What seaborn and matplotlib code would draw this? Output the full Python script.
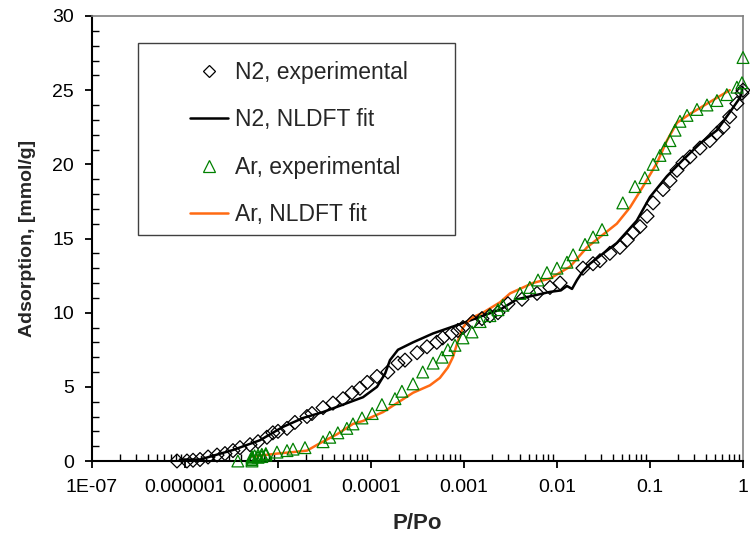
import numpy as np
import pandas as pd
import matplotlib
matplotlib.use("Agg")
import matplotlib.pyplot as plt
import seaborn as sns
from matplotlib.lines import Line2D
from matplotlib.patches import Rectangle
from matplotlib.ticker import LogLocator, NullFormatter

# ---------------- data ----------------
n2_exp_p = [8.2e-7, 1.05e-6, 1.22e-6, 1.45e-6, 1.77e-6, 2.21e-6, 2.69e-6, 3.28e-6, 3.9e-6,
            5.0e-6, 6.1e-6, 7.6e-6, 8.8e-6, 1.0e-5, 1.25e-5, 1.52e-5, 2.05e-5, 2.32e-5,
            3.05e-5, 3.9e-5, 5.0e-5, 6.25e-5, 7.6e-5, 9.1e-5, 1.16e-4, 1.52e-4, 1.95e-4,
            2.32e-4, 3.13e-4, 4.0e-4, 5.1e-4, 5.9e-4, 7.4e-4, 8.6e-4, 9.75e-4, 1.25e-3,
            1.56e-3, 1.9e-3, 2.32e-3, 2.97e-3, 4.2e-3, 6.1e-3, 8.4e-3, 1.08e-2, 1.9e-2,
            2.44e-2, 2.9e-2, 3.7e-2, 4.75e-2, 5.7e-2, 6.6e-2, 7.8e-2, 9.3e-2, 0.108,
            0.138, 0.164, 0.195, 0.226, 0.269, 0.345, 0.44, 0.525, 0.61, 0.72, 0.86,
            0.975, 1.0]
n2_exp_q = [0.0, 0.0, 0.05, 0.1, 0.27, 0.4, 0.5, 0.7, 0.9,
            1.1, 1.3, 1.6, 1.9, 2.0, 2.2, 2.6, 3.0, 3.2,
            3.6, 3.9, 4.2, 4.6, 4.9, 5.3, 5.7, 6.0, 6.6,
            6.8, 7.3, 7.7, 8.0, 8.3, 8.6, 8.8, 9.0, 9.4,
            9.6, 9.8, 10.0, 10.6, 10.9, 11.3, 11.7, 12.0, 13.0,
            13.3, 13.5, 14.0, 14.4, 14.9, 15.4, 15.8, 16.5, 17.4,
            18.3, 18.9, 19.6, 20.1, 20.5, 21.1, 21.6, 22.1, 22.5, 23.2, 24.1,
            24.8, 25.0]

n2_fit_p = [8.8e-7, 1.45e-6, 3.28e-6, 6.4e-6, 1.13e-5, 1.86e-5, 3.05e-5, 5.0e-5, 8.2e-5,
            1.16e-4, 1.42e-4, 1.6e-4, 1.95e-4, 2.83e-4, 4.65e-4, 7.1e-4, 1.08e-3, 1.6e-3,
            2.44e-3, 3.7e-3, 8.4e-3, 1.1e-2, 1.28e-2, 1.45e-2, 1.64e-2, 1.9e-2, 2.26e-2,
            4.4e-2, 7.2e-2, 0.1, 0.152, 0.226, 0.345, 0.525, 0.72, 0.93, 1.0]
n2_fit_q = [0.1, 0.1, 0.74, 1.4, 2.3, 2.9, 3.3, 3.8, 4.3,
            5.0, 5.9, 6.8, 7.5, 8.0, 8.6, 9.0, 9.4, 9.8,
            10.2, 10.9, 11.4, 11.5, 11.8, 11.6, 12.2, 12.8, 13.3,
            14.7, 16.2, 17.8, 19.2, 20.3, 21.4, 22.3, 23.5, 24.5, 25.2]

ar_exp_p = [3.7e-6, 5.25e-6, 5.25e-6, 5.25e-6, 5.25e-6, 5.6e-6, 6.1e-6, 6.1e-6, 6.7e-6,
            6.7e-6, 7.4e-6, 7.4e-6, 9.75e-6, 1.25e-5, 1.45e-5, 1.95e-5, 3.05e-5, 3.6e-5,
            4.4e-5, 5.5e-5, 6.4e-5, 8.0e-5, 1.03e-4, 1.31e-4, 1.81e-4, 2.15e-4, 2.83e-4,
            3.6e-4, 4.65e-4, 5.8e-4, 6.7e-4, 8.0e-4, 9.75e-4, 1.22e-3, 1.49e-3, 1.9e-3,
            2.32e-3, 2.62e-3, 4.0e-3, 5.1e-3, 6.25e-3, 7.8e-3, 1.0e-2, 1.28e-2, 1.49e-2,
            2.0e-2, 2.44e-2, 3.05e-2, 5.1e-2, 6.9e-2, 8.8e-2, 0.108, 0.128, 0.145, 0.164,
            0.186, 0.21, 0.25, 0.32, 0.41, 0.525, 0.67, 0.86, 0.975, 1.0]
ar_exp_q = [0.0, 0.0, 0.1, 0.2, 0.3, 0.35, 0.25, 0.4, 0.3,
            0.45, 0.4, 0.5, 0.6, 0.7, 0.8, 0.9, 1.3, 1.6,
            1.9, 2.2, 2.5, 2.9, 3.2, 3.8, 4.2, 4.7, 5.2,
            6.0, 6.6, 7.0, 7.5, 7.8, 8.3, 8.7, 9.4, 9.8,
            10.2, 10.5, 11.3, 11.7, 12.2, 12.7, 13.0, 13.4, 13.9,
            14.6, 15.1, 15.6, 17.4, 18.5, 19.1, 20.0, 20.6, 21.1, 21.6,
            22.3, 22.9, 23.3, 23.7, 24.0, 24.3, 24.7, 25.2, 25.5, 27.2]

ar_fit_p = [5.25e-6, 9.75e-6, 1.45e-5, 2.05e-5, 2.83e-5, 4.3e-5, 6.4e-5, 8.2e-5, 1.05e-4,
            1.35e-4, 1.9e-4, 2.83e-4, 4.3e-4, 5.5e-4, 6.7e-4, 7.6e-4, 8.6e-4, 9.75e-4,
            1.16e-3, 1.6e-3, 2.44e-3, 3.13e-3, 5.5e-3, 8.4e-3, 1.38e-2, 2.1e-2, 2.9e-2,
            4.4e-2, 6.1e-2, 8.4e-2, 0.119, 0.152, 0.195, 0.269, 0.44, 0.72]
ar_fit_q = [0.3, 0.5, 0.6, 0.7, 1.2, 1.8, 2.5, 2.7, 3.0,
            3.3, 3.9, 4.6, 5.1, 5.6, 6.3, 7.0, 8.1, 9.0,
            9.6, 10.0, 10.7, 11.3, 12.0, 12.3, 13.1, 14.4, 15.1,
            16.0, 17.1, 18.5, 20.1, 21.6, 22.8, 23.4, 24.2, 25.0]

x_ticks = [1e-7, 1e-6, 1e-5, 1e-4, 1e-3, 1e-2, 1e-1, 1]
x_tick_labels = ["1E-07", "0.000001", "0.00001", "0.0001", "0.001", "0.01", "0.1", "1"]
y_ticks = [0, 5, 10, 15, 20, 25, 30]

legend_labels = ["N2, experimental", "N2, NLDFT fit", "Ar, experimental", "Ar, NLDFT fit"]

# ---------------- styling ----------------
sns.set_style("ticks")
plt.rcParams["font.family"] = ["Liberation Sans", "DejaVu Sans"]

BLACK = "#000000"
GREEN = "#008000"
ORANGE = "#FF6A13"

fig = plt.figure(figsize=(7.5, 5.38), dpi=100)
fig.patch.set_facecolor("white")
ax = fig.add_axes([92 / 750, 77 / 538, 651 / 750, 445 / 538])
ax.set_facecolor("white")

n2_exp = pd.DataFrame({"p": n2_exp_p, "q": n2_exp_q})
n2_fit = pd.DataFrame({"p": n2_fit_p, "q": n2_fit_q})
ar_exp = pd.DataFrame({"p": ar_exp_p, "q": ar_exp_q})
ar_fit = pd.DataFrame({"p": ar_fit_p, "q": ar_fit_q})

sns.lineplot(data=n2_fit, x="p", y="q", ax=ax, color=BLACK, linewidth=1.8,
             estimator=None, sort=False, zorder=3)
sns.lineplot(data=ar_fit, x="p", y="q", ax=ax, color=ORANGE, linewidth=1.8,
             estimator=None, sort=False, zorder=3)
sns.scatterplot(data=n2_exp, x="p", y="q", ax=ax, marker="D", s=50,
                facecolor="none", edgecolor=BLACK, linewidth=0.9, clip_on=False, zorder=4)
sns.scatterplot(data=ar_exp, x="p", y="q", ax=ax, marker="^", s=72,
                facecolor="none", edgecolor=GREEN, linewidth=0.9, clip_on=False, zorder=4)

ax.set_xscale("log")
ax.set_xlim(1e-7, 1)
ax.set_ylim(0, 30)
ax.set_xticks(x_ticks)
ax.set_xticklabels(x_tick_labels)
ax.xaxis.set_minor_locator(LogLocator(base=10, subs=np.arange(2, 10), numticks=100))
ax.xaxis.set_minor_formatter(NullFormatter())
ax.set_yticks(y_ticks)
ax.set_yticks(np.arange(0, 31, 1), minor=True)

ax.tick_params(axis="both", which="major", direction="out", length=5, width=1.3,
               labelsize=14, color=BLACK, labelcolor=BLACK, pad=8)
ax.tick_params(axis="both", which="minor", direction="in", length=5, width=1.0, color=BLACK)

ax.set_xlabel("P/Po", fontsize=16, fontweight="bold", labelpad=12)
ax.set_ylabel("Adsorption, [mmol/g]", fontsize=14, fontweight="bold", labelpad=12)

for side in ["left", "bottom"]:
    ax.spines[side].set_color(BLACK)
    ax.spines[side].set_linewidth(1.5)
for side in ["top", "right"]:
    ax.spines[side].set_visible(True)
    ax.spines[side].set_color("#808080")
    ax.spines[side].set_linewidth(1.2)

# legend frame drawn as a rectangle
fig.patches.append(Rectangle((138 / 750, (538 - 235) / 538), 317 / 750, 192 / 538,
                             transform=fig.transFigure, facecolor="white",
                             edgecolor="#404040", linewidth=1.0, zorder=5))

handles = [
    Line2D([], [], linestyle="none", marker="D", markersize=6.5, markerfacecolor="none",
           markeredgecolor=BLACK, markeredgewidth=0.9),
    Line2D([], [], color=BLACK, linewidth=1.8),
    Line2D([], [], linestyle="none", marker="^", markersize=8, markerfacecolor="none",
           markeredgecolor=GREEN, markeredgewidth=0.9),
    Line2D([], [], color=ORANGE, linewidth=1.8),
]
leg = fig.legend(handles=handles, labels=legend_labels, loc="upper left",
                 bbox_to_anchor=(190 / 750, (538 - 61) / 538), frameon=False,
                 fontsize=16.5, handlelength=1.65, handletextpad=0.3,
                 labelspacing=1.06, borderpad=0, borderaxespad=0)
leg.set_zorder(6)

fig.savefig("out.png", dpi=100, facecolor="white")
